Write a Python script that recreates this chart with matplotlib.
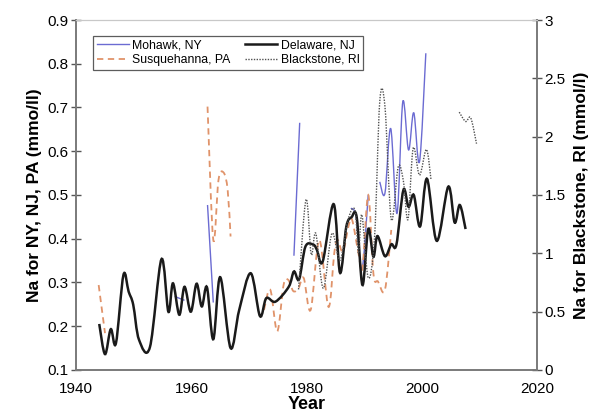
import numpy as np
import matplotlib
matplotlib.use("Agg")
import matplotlib.pyplot as plt
from matplotlib.path import Path
from matplotlib.patches import PathPatch

plt.rcParams['font.family'] = ['Liberation Sans', 'DejaVu Sans']

nan = np.nan

# Delaware, NJ (left axis)
del_year = [1944.0, 1945.0, 1946.0, 1946.9, 1948.2, 1949.1, 1949.9, 1950.9, 1952.8,
            1954.8, 1956.0, 1956.8, 1957.9, 1958.8, 1959.9, 1960.9, 1961.8, 1962.7,
            1963.8, 1965.0, 1966.8, 1968.3, 1970.3, 1971.9, 1973.0, 1974.6, 1976.9,
            1977.8, 1978.7, 1979.8, 1981.2, 1981.8, 1982.8, 1984.7, 1985.8, 1986.9,
            1987.8, 1988.7, 1989.7, 1990.7, 1991.6, 1992.3, 1993.6, 1994.7, 1995.6,
            1996.8, 1997.7, 1998.6, 1999.7, 2000.9, 2002.6, 2004.6, 2005.7, 2006.6,
            2007.6]
del_na = [0.205, 0.136, 0.193, 0.161, 0.317, 0.279, 0.249, 0.169, 0.152,
          0.353, 0.233, 0.298, 0.226, 0.290, 0.233, 0.297, 0.245, 0.289,
          0.170, 0.312, 0.150, 0.237, 0.321, 0.223, 0.264, 0.256, 0.290,
          0.325, 0.307, 0.382, 0.386, 0.374, 0.348, 0.479, 0.322, 0.428,
          0.449, 0.449, 0.294, 0.422, 0.359, 0.406, 0.360, 0.387, 0.387,
          0.511, 0.473, 0.500, 0.428, 0.537, 0.395, 0.519, 0.437, 0.477,
          0.422]

# Mohawk, NY (left axis), gaps as nan
moh_year = [1957.1, 1958.8, nan, 1962.8, 1963.8, nan, 1977.8, 1978.8, nan,
            1987.7, 1988.6, 1989.6, 1990.7, nan,
            1992.7, 1993.6, 1994.6, 1995.7, 1996.7, 1997.7, 1998.6, 1999.6, 2000.7]
moh_na = [0.268, 0.259, nan, 0.477, 0.254, nan, 0.361, 0.665, nan,
          0.470, 0.450, 0.330, 0.500, nan,
          0.530, 0.504, 0.652, 0.458, 0.713, 0.603, 0.688, 0.576, 0.824]

# Susquehanna, PA (left axis)
sus_year = [1943.9, 1945.0, nan,
            1962.8, 1963.8, 1964.7, 1965.6, 1966.3, 1966.8, nan,
            1972.6, 1973.7, 1974.9, 1976.0, 1976.8, 1977.7, 1978.6, 1979.5, 1980.7,
            1982.2, 1983.8, 1984.8, 1985.4, 1986.3, 1987.3, 1987.9, 1989.0, 1989.7,
            1990.7, 1991.6, 1992.4, 1993.6, 1994.7]
sus_na = [0.294, 0.184, nan,
          0.702, 0.397, 0.534, 0.551, 0.511, 0.405, nan,
          0.237, 0.283, 0.188, 0.294, 0.306, 0.280, 0.287, 0.310, 0.237,
          0.397, 0.244, 0.367, 0.397, 0.370, 0.430, 0.443, 0.367, 0.333,
          0.500, 0.320, 0.302, 0.283, 0.420]

# Blackstone, RI (right axis)
bla_year = [1978.6, 1979.9, 1980.8, 1981.6, 1982.9, 1984.4, 1985.8, 1987.2, 1988.4,
            1989.0, 1989.6, 1990.7, 1991.8, 1992.7, 1993.6, 1994.7, 1995.9, 1996.8,
            1997.6, 1998.5, 1999.6, 2000.8, 2001.6, nan,
            2006.5, 2007.6, 2008.5, 2009.5]
bla_na = [0.69, 1.46, 0.99, 1.17, 0.70, 1.17, 0.94, 1.29, 1.37,
          1.00, 1.33, 0.79, 1.14, 2.30, 2.26, 1.29, 1.74, 1.62,
          1.29, 1.90, 1.67, 1.89, 1.63, nan,
          2.21, 2.13, 2.16, 1.94]


def smooth_path(xs, ys):
    # smoothed line like Excel: bezier through the points, split at nan
    xs = np.asarray(xs, float)
    ys = np.asarray(ys, float)
    verts, codes = [], []
    ok = ~np.isnan(xs)
    idx = np.where(ok)[0]
    segs = np.split(idx, np.where(np.diff(idx) != 1)[0] + 1)
    for s in segs:
        p = np.column_stack([xs[s], ys[s]])
        n = len(p)
        verts.append(p[0]); codes.append(Path.MOVETO)
        for i in range(n - 1):
            p0 = p[i - 1] if i > 0 else p[i]
            p3 = p[i + 2] if i + 2 < n else p[i + 1]
            c1 = p[i] + (p[i + 1] - p0) / 6
            c2 = p[i + 1] - (p3 - p[i]) / 6
            verts += [c1, c2, p[i + 1]]
            codes += [Path.CURVE4] * 3
    return Path(verts, codes)


fig = plt.figure(figsize=(6.0, 4.17), dpi=100)
ax = fig.add_axes([0.127, 0.113, 0.768, 0.839])
ax2 = ax.twinx()

styles = {
    'moh': dict(color='#6B6BD2', lw=1.0, ls='-'),
    'sus': dict(color='#E0936A', lw=1.3, ls=(0, (3.5, 2.5))),
    'del': dict(color='#1a1a1a', lw=1.8, ls='-'),
    'bla': dict(color='#505050', lw=1.0, ls=(0, (1, 1))),
}

ax.add_patch(PathPatch(smooth_path(moh_year, moh_na), fill=False, ec=styles['moh']['color'],
                       lw=styles['moh']['lw'], ls=styles['moh']['ls']))
ax.add_patch(PathPatch(smooth_path(sus_year, sus_na), fill=False, ec=styles['sus']['color'],
                       lw=styles['sus']['lw'], ls=styles['sus']['ls']))
ax.add_patch(PathPatch(smooth_path(del_year, del_na), fill=False, ec=styles['del']['color'],
                       lw=styles['del']['lw'], ls=styles['del']['ls']))
ax2.add_patch(PathPatch(smooth_path(bla_year, bla_na), fill=False, ec=styles['bla']['color'],
                        lw=styles['bla']['lw'], ls=styles['bla']['ls']))

# legend handles
l_moh, = ax.plot([], [], label='Mohawk, NY', **styles['moh'])
l_sus, = ax.plot([], [], label='Susquehanna, PA', **styles['sus'])
l_del, = ax.plot([], [], label='Delaware, NJ', **styles['del'])
l_bla, = ax.plot([], [], label='Blackstone, RI', **styles['bla'])

ax.set_xlim(1940, 2020)
ax.set_ylim(0.1, 0.9)
ax2.set_ylim(0, 3)
ax.set_xticks([1940, 1960, 1980, 2000, 2020])
ax.set_yticks(np.arange(0.1, 0.91, 0.1))
ax.set_yticklabels(['0.1', '0.2', '0.3', '0.4', '0.5', '0.6', '0.7', '0.8', '0.9'])
ax2.set_yticks([0, 0.5, 1, 1.5, 2, 2.5, 3])
ax2.set_yticklabels(['0', '0.5', '1', '1.5', '2', '2.5', '3'])

for a in (ax, ax2):
    for s in ('left', 'right', 'bottom'):
        a.spines[s].set_color('#7a7a7a')
        a.spines[s].set_linewidth(1.2)
    a.spines['top'].set_color('#c8c8c8')
ax.tick_params(axis='y', direction='inout', length=7, width=1, color='#555555',
               labelsize=11, pad=2)
ax.tick_params(axis='x', direction='inout', length=0, labelsize=11, pad=9)
ax2.tick_params(axis='y', direction='inout', length=7, width=1, color='#555555',
                labelsize=11, pad=2)

ax.set_xlabel('Year', fontsize=13, fontweight='bold', labelpad=0)
ax.set_ylabel('Na for NY, NJ, PA (mmo/ll)', fontsize=12.5, fontweight='bold', labelpad=4)
ax2.set_ylabel('Na for Blackstone, RI (mmol/l)', fontsize=12.5, fontweight='bold',
               labelpad=6)

leg = ax.legend(handles=[l_moh, l_sus, l_del, l_bla], ncol=2, loc='upper left',
                bbox_to_anchor=(0.037, 0.955), fontsize=8.8, frameon=True,
                fancybox=False, edgecolor='#333333', handlelength=2.6,
                handletextpad=0.3, columnspacing=1.2, borderpad=0.3,
                labelspacing=0.2, borderaxespad=0)
leg.get_frame().set_linewidth(0.9)

fig.savefig('out.png', dpi=100)
